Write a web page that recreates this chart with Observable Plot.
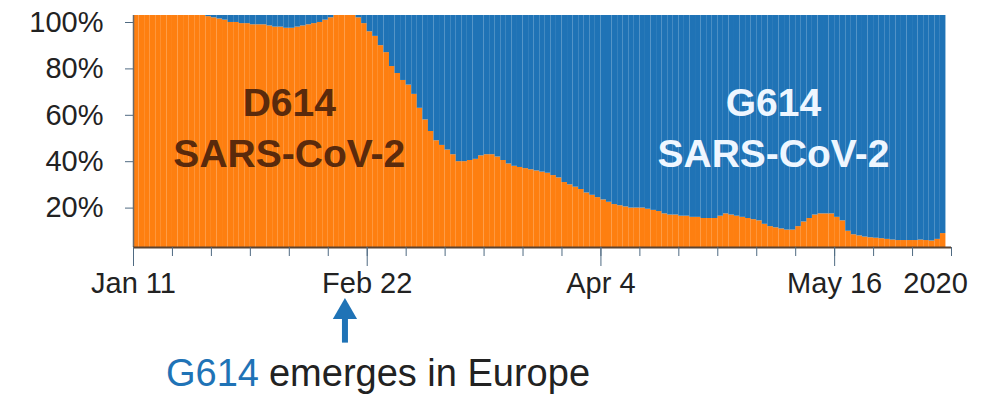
<!DOCTYPE html>
<html>
<head>
<meta charset="utf-8">
<script src="https://cdn.jsdelivr.net/npm/d3@7"></script>
<script src="https://cdn.jsdelivr.net/npm/@observablehq/plot@0.6"></script>
<style>
  html, body { margin: 0; padding: 0; background: #ffffff; }
  #chart { width: 997px; height: 400px; }
</style>
</head>
<body>
<div id="chart"></div>
<script>
// ---- data ----
const startDay = "2020-01-11";
const endDay = "2020-06-06";
// daily share of D614 (%), Jan 11 onward; G614 = 100 - D614
const d614 = [
  100,100,100,100,100,100,100,100,100,100,100,100,100,
  99.5,99,98.5,98,97,97,96.5,96.5,96,96,96,95.5,95,95,94.5,94.5,95,95.5,96,96.5,97,98,99,
  100,100,100,100,99,96.5,93,91,87,84,78,75,72,70,66,60,55,50,46,44,42,40,37,37,37.5,38,39.5,40,40,39,37.5,36,35,34.5,
  34,33.5,33,32.5,32,31,30,28,27,26,25,23.5,22.5,21.5,20.5,19.5,18.5,18,17.5,17,17,17,16.5,16,15.5,14.5,14,14,13.5,13.5,
  13,13,12.5,12.5,12.5,13.5,14.5,14,13.5,13,12.5,12,11.5,10,9,8.5,8,7.5,7.5,9,11,12.5,14,14.5,14.5,14.5,13,11.5,7,
  5.5,5,4.5,4.2,4,3.8,3.5,3.2,3,3,3,3,3.2,3,2.8,3.5,6
];
const majorTickDays = ["2020-01-11", "2020-02-22", "2020-04-04", "2020-05-16"];
const majorTickLabels = ["Jan 11", "Feb 22", "Apr 4", "May 16"];
const yearLabel = "2020";
const yTicks = [20, 40, 60, 80, 100];
const seriesNames = ["D614", "G614"];
const virusName = "SARS-CoV-2";
const emergeDay = "2020-02-18";
const emergeRest = "emerges in Europe";
const labelDays = ["2020-02-08", "2020-05-05"];
const labelLevel = 52.8;

// ---- build ----
const DAY = 864e5;
const start = new Date(startDay + "T00:00:00Z");
const end = new Date(endDay + "T00:00:00Z");
const table = d614.map((v, i) => ({
  date: new Date(+start + i * DAY),
  next: new Date(+start + (i + 1) * DAY),
  d: v
}));
const majors = majorTickDays.map(s => new Date(s + "T00:00:00Z"));
const majorMap = new Map(majors.map((d, i) => [+d, majorTickLabels[i]]));
const minors = d3.utcDay.every(7).range ? d3.utcDays(start, new Date(+end + DAY), 7) : [];
const emerge = new Date(emergeDay + "T00:00:00Z");
const labels = [
  {date: new Date(labelDays[0] + "T00:00:00Z"), text: seriesNames[0] + "\n" + virusName, color: "#5a2a0c"},
  {date: new Date(labelDays[1] + "T00:00:00Z"), text: seriesNames[1] + "\n" + virusName, color: "#eef6ff"}
];

const orange = "#fe7f10";
const blue = "#1f73b6";
const tickColor = "#4f6a82";

const chart = Plot.plot({
  width: 997,
  height: 400,
  marginTop: 15,
  marginLeft: 133,
  marginRight: 46,
  marginBottom: 153,
  x: {type: "utc", domain: [start, end]},
  y: {domain: [0, 100]},
  style: {
    fontFamily: "'Liberation Sans', Arial, sans-serif",
    fontSize: "29px",
    background: "#ffffff",
    color: "#222"
  },
  marks: [
    Plot.rectY(table, {x1: "date", x2: "next", y1: 0, y2: "d", fill: orange, inset: 0}),
    Plot.rectY(table, {x1: "date", x2: "next", y1: "d", y2: 100, fill: blue, inset: 0}),
    Plot.ruleX([start], {y1: 0, y2: 100, stroke: "#6a6a6a", strokeWidth: 1.5}),
    Plot.ruleY([0], {stroke: "#5b4330", strokeWidth: 2}),
    Plot.axisY({ticks: yTicks, tickFormat: d => d + "%", tickSize: 8, tickPadding: 22, dy: 7, stroke: tickColor, label: null, fill: "#222"}),
    Plot.axisX({ticks: minors, tickSize: 9, tickFormat: () => "", stroke: tickColor, label: null}),
    Plot.axisX({ticks: majors, tickSize: 19, tickPadding: 6, tickFormat: d => majorMap.get(+d), stroke: tickColor, label: null, fill: "#222"}),
    Plot.axisX({ticks: [end], tickSize: 0, tickPadding: 25, tickFormat: () => yearLabel, dx: -16, label: null, fill: "#222"}),
    Plot.text(labels, {x: "date", y: () => labelLevel, text: "text", fill: "color", fontSize: 39, fontWeight: "bold", lineHeight: 1.31}),
    Plot.link([emerge], {x1: d => d, x2: d => d, y1: -41, y2: -30, stroke: blue, strokeWidth: 6}),
    Plot.dot([emerge], {x: d => d, y: -27.8, symbol: "triangle", r: 9, fill: blue, stroke: "none"}),
    Plot.text([emerge], {x: d => d, y: -54.3, text: () => seriesNames[1], textAnchor: "end", dx: -86, fill: blue, fontSize: 38}),
    Plot.text([emerge], {x: d => d, y: -54.3, text: () => emergeRest, textAnchor: "start", dx: -76, fill: "#222", fontSize: 38})
  ]
});
document.getElementById("chart").append(chart);
</script>
</body>
</html>
